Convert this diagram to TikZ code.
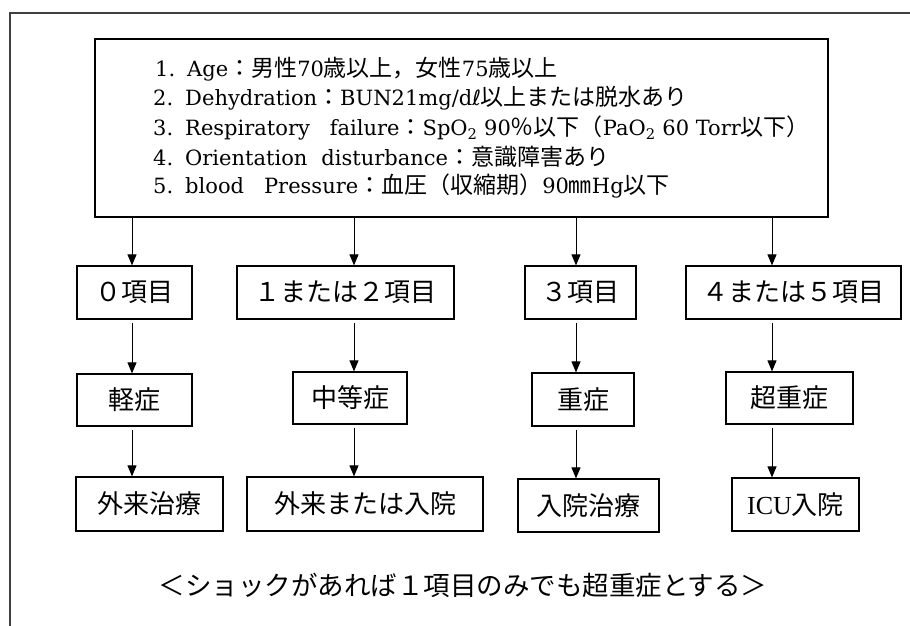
\documentclass[tikz,border=0pt]{standalone}
\usepackage{fontspec}
\setmainfont{DejaVu Serif}
\newfontfamily\jpfont{Noto Sans CJK JP}
\newfontfamily\serfont{Liberation Serif}
\newfontfamily\symfont{DejaVu Sans}
\usetikzlibrary{arrows.meta}
\newcommand\J[1]{{\jpfont\fontsize{23}{24}\selectfont #1}}
\begin{document}
\begin{tikzpicture}[x=1pt,y=-1pt,
  box/.style={draw, line width=1.2pt, inner sep=0pt, font=\jpfont\fontsize{26}{30}\selectfont},
  tl/.style={anchor=west, inner sep=0pt, font=\fontsize{21}{24}\selectfont},
  arr/.style={line width=1pt, -{Triangle[length=11pt,width=9pt]}}]
\useasboundingbox (0,0) rectangle (910,626);
\fill[white] (0,0) rectangle (910,626);
% outer frame
\draw[line width=1.2pt, black!75] (10,626) -- (10,13) -- (910,13);
% criteria box
\node[draw, line width=1.2pt, minimum width=733pt, minimum height=178pt] (top) at (461.5,128) {};
\node[tl] (l1) at (155,69) {1.\hspace{12pt}Age\J{：男性}70\J{歳以上，女性}75\J{歳以上}};
\node[tl] (l2) at (153,98) {2.\hspace{12pt}Dehydration\J{：}BUN21mg/d{\symfont ℓ}\J{以上または脱水あり}};
\node[tl] (l3) at (153,128) {3.\hspace{12pt}Respiratory\hspace{20pt}failure\J{：}SpO\textsubscript{2} 90\J{％以下（}PaO\textsubscript{2} 60 Torr\J{以下）}};
\node[tl] (l4) at (153,157) {4.\hspace{12pt}Orientation\hspace{14pt}disturbance\J{：意識障害あり}};
\node[tl] (l5) at (153,186) {5.\hspace{12pt}blood\hspace{20pt}Pressure\J{：血圧（収縮期）}90\J{㎜}Hg\J{以下}};
% column x positions
\coordinate (c0) at (132,0);
\coordinate (c1) at (354,0);
\coordinate (c2) at (576,0);
\coordinate (c3) at (772,0);
% row 1
\node[box, minimum width=115pt, minimum height=53pt] (b0) at (134.5,292.5) {０項目};
\node[box, minimum width=217pt, minimum height=53pt] (b1) at (345.5,292.5) {１または２項目};
\node[box, minimum width=111pt, minimum height=53pt] (b2) at (580.5,292.5) {３項目};
\node[box, minimum width=215pt, minimum height=53pt] (b3) at (793.5,292.5) {４または５項目};
% row 2
\node[box, minimum width=115pt, minimum height=52pt] (m0) at (134.5,400) {軽症};
\node[box, minimum width=114pt, minimum height=52pt] (m1) at (350,398) {中等症};
\node[box, minimum width=102pt, minimum height=53pt] (m2) at (583,399.5) {重症};
\node[box, minimum width=127pt, minimum height=52pt] (m3) at (789.5,398) {超重症};
% row 3
\node[box, minimum width=147pt, minimum height=54pt] (t0) at (149.5,504) {外来治療};
\node[box, minimum width=236pt, minimum height=54pt] (t1) at (365,504) {外来または入院};
\node[box, minimum width=141pt, minimum height=53pt] (t2) at (588.5,505.5) {入院治療};
\node[box, minimum width=127pt, minimum height=53pt] (t3) at (795.5,504.5) {{\serfont ICU}入院};
% arrows
\foreach \i in {0,1,2,3}{
  \draw[arr] (top.south -| c\i) -- (b\i.north -| c\i);
  \draw[arr, shorten <=3pt] (b\i.south -| c\i) -- (m\i.north -| c\i);
  \draw[arr, shorten <=3pt] (m\i.south -| c\i) -- (t\i.north -| c\i);
}
% note
\node[font=\jpfont\fontsize{26.5}{30}\selectfont, inner sep=0pt] (note) at (463,585) {＜ショックがあれば１項目のみでも超重症とする＞};
\end{tikzpicture}
\end{document}
